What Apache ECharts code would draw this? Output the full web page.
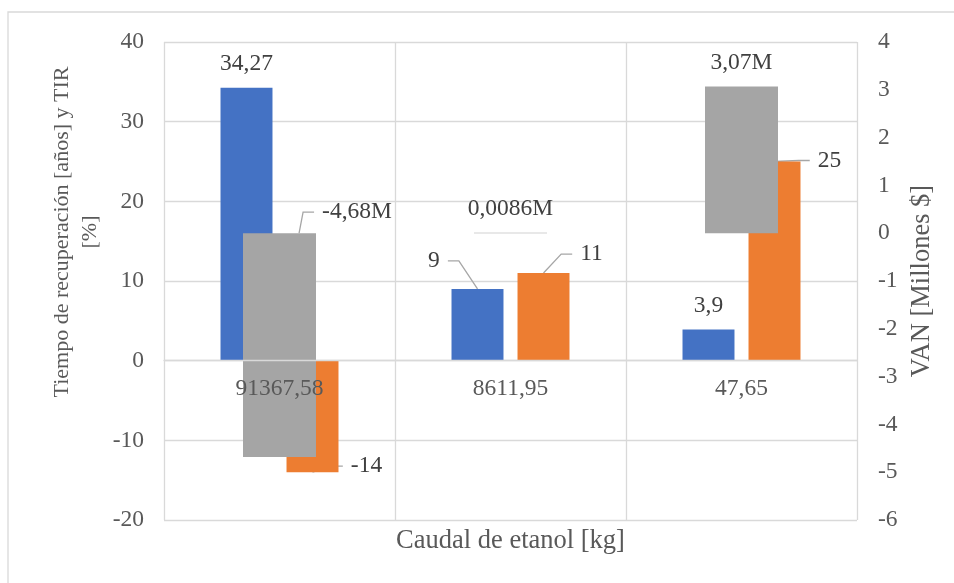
<!DOCTYPE html>
<html>
<head>
<meta charset="utf-8">
<script src="https://cdn.jsdelivr.net/npm/echarts@6/dist/echarts.min.js"></script>
<style>
  html, body { margin: 0; padding: 0; background: #ffffff; }
  #chart { width: 954px; height: 583px; }
</style>
</head>
<body>
<div id="chart"></div>
<script>
// Flujo de etanol evaluado (eje de categorías)
const categories = ['91367,58', '8611,95', '47,65'];
// Tiempo de recuperación [años]
const recuperacion = [34.27, 9, 3.9];
// TIR [%]
const tir = [-14, 11, 25];
// VAN [millones $]
const van = [-4.68, 0.0086, 3.07];

// Ejes: izquierdo (años / %) y derecho (millones $)
const leftAxis = { min: -20, max: 40, interval: 10 };
const rightAxis = { min: -6, max: 4, interval: 1 };

const SERIF = '"Liberation Serif", "Times New Roman", serif';
const LABEL_SIZE = 23.5;
const TEXT_DARK = '#404040';
const TEXT_AXIS = '#595959';
const GRID_COLOR = '#d9d9d9';
const LEADER_COLOR = '#a6a6a6';

const CHART_H = 583;
const GRID = { left: 164, right: 97, top: 42, bottom: 63 };
const gridHeight = CHART_H - GRID.top - GRID.bottom;
// Las etiquetas de categoría se sitúan sobre la línea del cero del eje izquierdo
const zeroOffset = -gridHeight * (0 - leftAxis.min) / (leftAxis.max - leftAxis.min);

// Anchura de barras (fracción de la banda) y separación entre barras
const BAR_FRAC = 0.225;
const GAP_FRAC = 0.27;
const VAN_FRAC = 0.316;

const decimal = v => String(v).replace('.', ',');
const fmtPlain = v => decimal(v);
const fmtMillones = v => decimal(v) + 'M';

const seriesValues = { recuperacion, tir, van };
// Posición de cada barra dentro de la banda: -1 izquierda, 0 centrada, 1 derecha
const slots = { recuperacion: -1, tir: 1, van: 0 };

// Etiquetas apartadas de su barra y unidas a ella con una línea guía.
// dx/dy: desplazamiento del centro de la etiqueta respecto al extremo de la barra
// (o respecto a la base si anchor = 'base').
const leaders = [
  { serie: 'recuperacion', index: 1, dx: -43.5, dy: -28, side: 'right', fmt: fmtPlain },
  { serie: 'tir', index: 0, dx: 54, dy: -6, side: 'left', fmt: fmtPlain },
  { serie: 'tir', index: 1, dx: 48, dy: -19, side: 'left', fmt: fmtPlain },
  { serie: 'tir', index: 2, dx: 55, dy: -1, side: 'left', fmt: fmtPlain },
  { serie: 'van', index: 0, dx: 77.5, dy: -21, side: 'left', anchor: 'base', toKnee: true, fmt: fmtMillones }
];

const measureCtx = document.createElement('canvas').getContext('2d');
measureCtx.font = LABEL_SIZE + 'px ' + SERIF;
const textWidth = t => measureCtx.measureText(t).width;

function findLeader(serie, index) {
  return leaders.find(l => l.serie === serie && l.index === index);
}

// Coloca las etiquetas apartadas a partir del rectángulo de su barra
function makeLayout(serie) {
  return function (p) {
    const L = findLeader(serie, p.dataIndex);
    if (!L) return {};
    const v = seriesValues[serie][p.dataIndex];
    const r = p.rect;
    const cx = r.x + r.width / 2;
    const endY = v < 0 ? r.y + r.height : r.y;
    const baseY = v < 0 ? r.y : r.y + r.height;
    const ay = L.anchor === 'base' ? baseY : endY;
    return { x: cx + L.dx, y: ay + L.dy, align: 'center', verticalAlign: 'middle' };
  };
}

// Líneas guía dibujadas con las mismas escalas que las barras
function leaderRenderer(list) {
  return function (params, api) {
    const L = list[params.dataIndex];
    const cat = api.value(0);
    const val = api.value(1);
    const slot = api.value(2);
    const band = api.size([1, 0])[0];
    const w = band * BAR_FRAC;
    const shift = slot * (w + w * GAP_FRAC) / 2;
    const end = api.coord([cat, val]);
    const base = api.coord([cat, 0]);
    const ax = end[0] + shift;
    const ay = L.anchor === 'base' ? base[1] : end[1];
    const lx = ax + L.dx;
    const ly = ay + L.dy;
    const half = textWidth(L.fmt(val)) / 2;
    const sign = L.side === 'right' ? 1 : -1;
    const start = lx + sign * (half + 8);
    const knee = start + sign * 11;
    const target = L.toKnee ? [knee - 4, ay] : [ax, end[1]];
    return {
      type: 'polyline',
      silent: true,
      shape: { points: [[start, ly], [knee, ly], target] },
      style: { stroke: LEADER_COLOR, lineWidth: 1.3, fill: null }
    };
  };
}

const leadersLeft = leaders.filter(l => l.serie !== 'van');
const leadersRight = leaders.filter(l => l.serie === 'van');
const leaderData = list => list.map(l => [l.index, seriesValues[l.serie][l.index], slots[l.serie]]);

const labelBase = {
  show: true,
  position: 'top',
  distance: 12,
  color: TEXT_DARK,
  fontFamily: SERIF,
  fontSize: LABEL_SIZE
};

const chart = echarts.init(document.getElementById('chart'), null, { renderer: 'canvas' });

chart.setOption({
  animation: false,
  backgroundColor: '#ffffff',
  grid: { left: GRID.left, right: GRID.right, top: GRID.top, bottom: GRID.bottom, containLabel: false },
  graphic: [
    {
      type: 'rect',
      shape: { x: 8, y: 12, width: 1000, height: 1000 },
      style: { fill: 'none', stroke: GRID_COLOR, lineWidth: 1.3 },
      silent: true,
      z: -10
    },
    {
      type: 'text',
      x: 76,
      y: 232,
      rotation: Math.PI / 2,
      style: {
        text: 'Tiempo de recuperación [años] y TIR\n[%]',
        font: '22px ' + SERIF,
        fill: TEXT_AXIS,
        align: 'center',
        verticalAlign: 'middle',
        lineHeight: 28
      },
      silent: true
    }
  ],
  xAxis: [
    {
      type: 'category',
      data: categories,
      z: 5,
      offset: zeroOffset,
      axisLine: { show: true, onZero: false, lineStyle: { color: GRID_COLOR, width: 1.3 } },
      axisTick: { show: false },
      axisLabel: { color: TEXT_AXIS, fontFamily: SERIF, fontSize: LABEL_SIZE, margin: 16 },
      splitLine: { show: true, lineStyle: { color: GRID_COLOR, width: 1.3 } }
    },
    {
      type: 'category',
      data: categories,
      position: 'bottom',
      name: 'Caudal de etanol [kg]',
      nameLocation: 'middle',
      nameGap: 8,
      nameTextStyle: { color: TEXT_AXIS, fontFamily: SERIF, fontSize: 26.5, verticalAlign: 'top' },
      axisLine: { show: false, onZero: false },
      axisTick: { show: false },
      axisLabel: { show: false },
      splitLine: { show: false }
    }
  ],
  yAxis: [
    {
      type: 'value',
      min: leftAxis.min,
      max: leftAxis.max,
      interval: leftAxis.interval,
      axisLine: { show: false },
      axisTick: { show: false },
      axisLabel: { color: TEXT_AXIS, fontFamily: SERIF, fontSize: LABEL_SIZE, margin: 20 },
      splitLine: { show: true, lineStyle: { color: GRID_COLOR, width: 1.3 } }
    },
    {
      type: 'value',
      position: 'right',
      min: rightAxis.min,
      max: rightAxis.max,
      interval: rightAxis.interval,
      name: 'VAN [Millones $]',
      nameLocation: 'middle',
      nameGap: 52,
      nameRotate: 90,
      nameTextStyle: { color: TEXT_AXIS, fontFamily: SERIF, fontSize: 26.5 },
      axisLine: { show: false },
      axisTick: { show: false },
      axisLabel: { color: TEXT_AXIS, fontFamily: SERIF, fontSize: LABEL_SIZE, margin: 21 },
      splitLine: { show: false }
    }
  ],
  series: [
    {
      name: 'Tiempo de recuperación',
      type: 'bar',
      xAxisIndex: 0,
      yAxisIndex: 0,
      data: recuperacion,
      barWidth: (BAR_FRAC * 100) + '%',
      barGap: (GAP_FRAC * 100) + '%',
      itemStyle: { color: '#4472C4' },
      label: Object.assign({}, labelBase, { formatter: p => fmtPlain(p.value) }),
      labelLayout: makeLayout('recuperacion')
    },
    {
      name: 'TIR',
      type: 'bar',
      xAxisIndex: 0,
      yAxisIndex: 0,
      data: tir,
      barWidth: (BAR_FRAC * 100) + '%',
      barGap: (GAP_FRAC * 100) + '%',
      itemStyle: { color: '#ED7D31' },
      label: Object.assign({}, labelBase, { formatter: p => fmtPlain(p.value) }),
      labelLayout: makeLayout('tir')
    },
    {
      name: 'guías-izquierda',
      type: 'custom',
      xAxisIndex: 0,
      yAxisIndex: 0,
      z: 2,
      silent: true,
      data: leaderData(leadersLeft),
      renderItem: leaderRenderer(leadersLeft)
    },
    {
      name: 'VAN',
      type: 'bar',
      xAxisIndex: 1,
      yAxisIndex: 1,
      z: 3,
      data: van,
      barWidth: (VAN_FRAC * 100) + '%',
      itemStyle: { color: '#A5A5A5' },
      label: Object.assign({}, labelBase, { formatter: p => fmtMillones(p.value) }),
      labelLayout: makeLayout('van')
    },
    {
      name: 'guías-derecha',
      type: 'custom',
      xAxisIndex: 1,
      yAxisIndex: 1,
      z: 4,
      silent: true,
      data: leaderData(leadersRight),
      renderItem: leaderRenderer(leadersRight)
    }
  ]
});
</script>
</body>
</html>
